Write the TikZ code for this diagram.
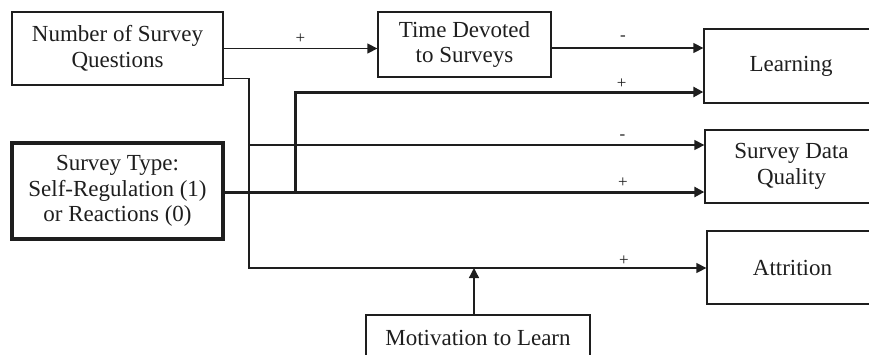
\documentclass[tikz,border=0pt]{standalone}
\usepackage{fontspec}
\setmainfont{Liberation Serif}
\usetikzlibrary{arrows.meta,calc}
\definecolor{ink}{HTML}{1E1E1E}
\tikzset{
 box/.style={draw=ink, line width=1.3pt, text=ink, align=center, font=\fontsize{23}{25.5}\selectfont, inner sep=0pt},
 thickbox/.style={box, line width=3.2pt},
 conn/.style={draw=ink, line width=1.3pt},
 thickconn/.style={draw=ink, line width=3pt, line join=miter},
 arr/.style={-{Triangle[length=10pt,width=10pt]}},
 lbl/.style={text=ink, font=\fontsize{17}{17}\selectfont, inner sep=0pt},
}
\begin{document}
\begin{tikzpicture}[x=1pt,y=-1pt]
\useasboundingbox (0,0) rectangle (869,354);
\clip (0,0) rectangle (869,354);
\node[box, minimum width=211pt, minimum height=73pt] (num) at (117.5,48.5) {Number of Survey\\Questions};
\node[box, minimum width=173pt, minimum height=65pt] (time) at (464.5,44.5) {Time Devoted\\to Surveys};
\node[box, minimum width=174pt, minimum height=74pt] (learn) at (791,66) {Learning};
\node[box, minimum width=173pt, minimum height=73pt] (sdq) at (791.5,166.5) {Survey Data\\Quality};
\node[box, minimum width=171pt, minimum height=73pt] (attr) at (792.5,267.5) {Attrition};
\node[thickbox, minimum width=211pt, minimum height=96pt] (stype) at (117.5,191) {Survey Type:\\Self-Regulation (1)\\or Reactions (0)};
\node[box, minimum width=224pt, minimum height=46pt] (motiv) at (478,338) {Motivation to Learn};

\draw[conn,arr] (num.east) -- node[lbl, yshift=10pt]{+} (time.west |- num.east);
\coordinate (t1) at ([yshift=-3.5pt]time.east);
\draw[conn,arr] (t1) -- node[lbl, pos=0.47, yshift=10pt]{-} (t1 -| learn.west);

\coordinate (s1) at ([yshift=-1pt]stype.east);
\coordinate (bx) at (295,92);
\draw[thickconn,arr] (s1) -- node[lbl, pos=0.83, yshift=9pt]{+} (s1 -| sdq.west);
\draw[thickconn,arr] (s1 -| bx) -- (bx) -- node[lbl, pos=0.80, yshift=8pt]{+} (bx -| learn.west);

\coordinate (n1) at ([yshift=7pt]num.south east);
\coordinate (vx) at (249,268);
\draw[conn,arr] (n1) -- (n1 -| vx) -- (vx) -- node[lbl, pos=0.82, yshift=7pt]{+} (vx -| attr.west);
\coordinate (m1) at (249,145);
\draw[conn,arr] (m1) -- node[lbl, pos=0.82, yshift=8pt]{-} (m1 -| sdq.west);
\draw[conn,arr] ([xshift=-4pt]motiv.north) -- ([xshift=-4pt]motiv.north |- vx);
\end{tikzpicture}
\end{document}
